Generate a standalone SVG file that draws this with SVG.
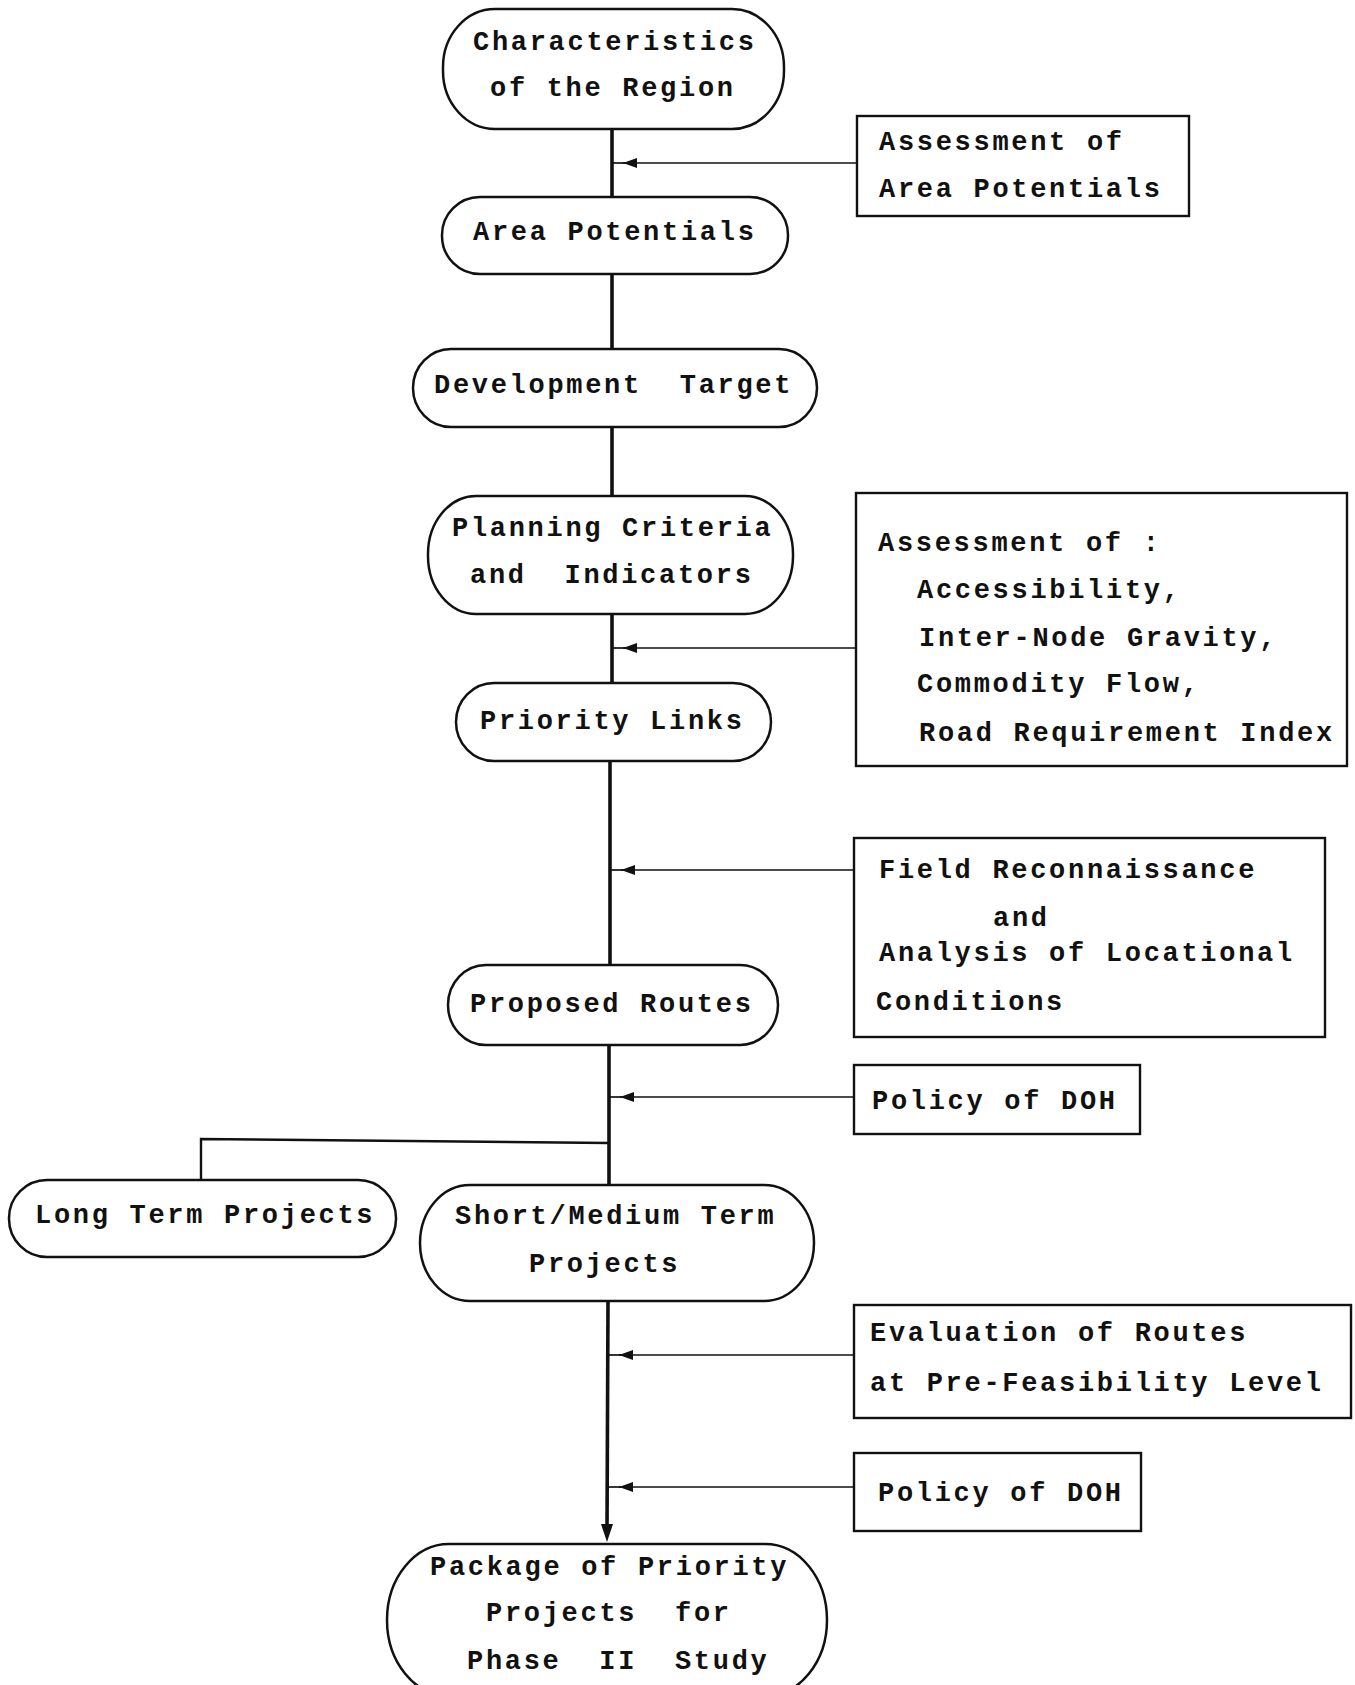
<svg xmlns="http://www.w3.org/2000/svg" width="1355" height="1685" viewBox="0 0 1355 1685">
<defs>
<style>
.node{fill:#fff;stroke:#111;stroke-width:2.5}
.box{fill:#fff;stroke:#111;stroke-width:2.4}
.t{font-family:"Liberation Mono","DejaVu Sans Mono",monospace;font-weight:bold;font-size:27px;letter-spacing:2.7px;fill:#111;white-space:pre}
.main{stroke:#111;stroke-width:3.6;fill:none}
.feed{stroke:#111;stroke-width:1.7;fill:none;marker-end:url(#ah)}
.stub{stroke:#111;stroke-width:1.7}
.branch{stroke:#111;stroke-width:2.4;fill:none}
</style>
<marker id="ah" viewBox="0 0 14 10" refX="14" refY="5" markerWidth="14" markerHeight="10" markerUnits="userSpaceOnUse" orient="auto">
<path d="M0,0 L14,5 L0,10 Z" fill="#111"/>
</marker>
</defs>
<rect width="1355" height="1685" fill="#fff"/>

<g id="connectors">
<line class="main" x1="612" y1="129" x2="612" y2="197"/>
<line class="main" x1="612" y1="274" x2="612" y2="349"/>
<line class="main" x1="612" y1="427" x2="612" y2="496"/>
<line class="main" x1="612" y1="614" x2="612" y2="683"/>
<line class="main" x1="610" y1="761" x2="610" y2="965"/>
<line class="main" x1="609" y1="1045" x2="609" y2="1185"/>
<polyline class="branch" points="609,1143 201,1139 201,1180"/>
<line class="main" x1="608" y1="1301" x2="607" y2="1530"/>
<path d="M601,1524 L613,1524 L607,1542 Z" fill="#111"/>
<line class="feed" x1="857" y1="163" x2="623" y2="163"/>
<line class="feed" x1="856" y1="648" x2="623" y2="648"/>
<line class="feed" x1="854" y1="870" x2="621" y2="870"/>
<line class="feed" x1="854" y1="1097" x2="620" y2="1097"/>
<line class="feed" x1="854" y1="1355" x2="619" y2="1355"/>
<line class="feed" x1="854" y1="1487" x2="619" y2="1487"/>
<line class="stub" x1="612" y1="163" x2="625" y2="163"/>
<line class="stub" x1="612" y1="648" x2="625" y2="648"/>
<line class="stub" x1="610" y1="870" x2="623" y2="870"/>
<line class="stub" x1="609" y1="1097" x2="622" y2="1097"/>
<line class="stub" x1="608" y1="1355" x2="621" y2="1355"/>
<line class="stub" x1="607" y1="1487" x2="621" y2="1487"/>
</g>

<g id="n1">
<rect class="node" x="443" y="9" width="341" height="120" rx="52" ry="58"/>
<text class="t" x="473" y="50">Characteristics</text>
<text class="t" x="490" y="96">of the Region</text>
</g>
<g id="boxA">
<rect class="box" x="857" y="116" width="332" height="100"/>
<text class="t" x="879" y="150">Assessment of</text>
<text class="t" x="879" y="197">Area Potentials</text>
</g>
<g id="n2">
<rect class="node" x="442" y="197" width="346" height="77" rx="38" ry="38"/>
<text class="t" x="473" y="240">Area Potentials</text>
</g>
<g id="n3">
<rect class="node" x="413" y="349" width="404" height="78" rx="38" ry="39"/>
<text class="t" x="434" y="393">Development  Target</text>
</g>
<g id="n4">
<rect class="node" x="428" y="496" width="365" height="118" rx="48" ry="58"/>
<text class="t" x="452" y="536">Planning Criteria</text>
<text class="t" x="470" y="583">and  Indicators</text>
</g>
<g id="boxB">
<rect class="box" x="856" y="493" width="491" height="273"/>
<text class="t" x="878" y="551">Assessment of :</text>
<text class="t" x="917" y="598">Accessibility,</text>
<text class="t" x="919" y="646">Inter-Node Gravity,</text>
<text class="t" x="917" y="692">Commodity Flow,</text>
<text class="t" x="919" y="741">Road Requirement Index</text>
</g>
<g id="n5">
<rect class="node" x="456" y="683" width="315" height="78" rx="38" ry="39"/>
<text class="t" x="480" y="729">Priority Links</text>
</g>
<g id="boxC">
<rect class="box" x="854" y="838" width="471" height="199"/>
<text class="t" x="879" y="878">Field Reconnaissance</text>
<text class="t" x="993" y="926">and</text>
<text class="t" x="879" y="961">Analysis of Locational</text>
<text class="t" x="876" y="1010">Conditions</text>
</g>
<g id="n6">
<rect class="node" x="448" y="965" width="330" height="80" rx="38" ry="40"/>
<text class="t" x="470" y="1012">Proposed Routes</text>
</g>
<g id="boxD">
<rect class="box" x="854" y="1065" width="286" height="69"/>
<text class="t" x="872" y="1109">Policy of DOH</text>
</g>
<g id="n7">
<rect class="node" x="9" y="1180" width="387" height="77" rx="38" ry="38"/>
<text class="t" x="35" y="1223">Long Term Projects</text>
</g>
<g id="n8">
<rect class="node" x="420" y="1185" width="394" height="116" rx="50" ry="58"/>
<text class="t" x="455" y="1224">Short/Medium Term</text>
<text class="t" x="529" y="1272">Projects</text>
</g>
<g id="boxE">
<rect class="box" x="854" y="1305" width="497" height="113"/>
<text class="t" x="870" y="1341">Evaluation of Routes</text>
<text class="t" x="870" y="1391">at Pre-Feasibility Level</text>
</g>
<g id="boxF">
<rect class="box" x="854" y="1453" width="287" height="78"/>
<text class="t" x="878" y="1501">Policy of DOH</text>
</g>
<g id="n9">
<rect class="node" x="387" y="1544" width="440" height="152" rx="62" ry="76"/>
<text class="t" x="430" y="1575">Package of Priority</text>
<text class="t" x="486" y="1621">Projects  for</text>
<text class="t" x="467" y="1669">Phase  II  Study</text>
</g>
</svg>
